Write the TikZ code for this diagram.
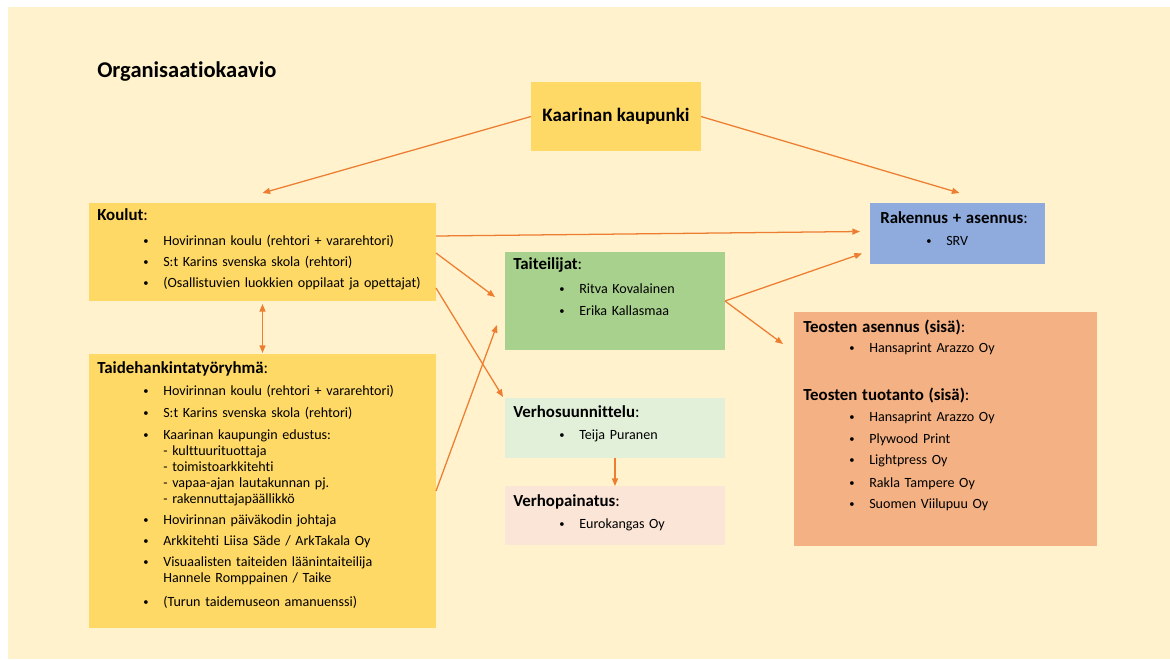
\documentclass[tikz,border=0pt]{standalone}
\usepackage{fontspec}
\setmainfont{Carlito}[Ligatures=NoCommon]
\usetikzlibrary{arrows.meta,positioning}
\definecolor{Tausta}{RGB}{255,242,204}
\definecolor{Keltainen}{RGB}{255,217,102}
\definecolor{Vihrea}{RGB}{169,209,142}
\definecolor{VaaleaVihrea}{RGB}{226,240,217}
\definecolor{VaaleaPuna}{RGB}{251,229,214}
\definecolor{Sininen}{RGB}{143,170,220}
\definecolor{Oranssi}{RGB}{244,177,131}
\definecolor{Nuoli}{RGB}{237,125,49}
\newlength\pxu \setlength\pxu{0.025cm}
\newcommand\otsikko[1]{{\fontsize{12}{11.4}\selectfont\textbf{#1}:}}
\newcommand\bul[1]{\hspace*{46\pxu}\makebox[20\pxu][l]{\fontsize{7.5}{7.5}\selectfont\raisebox{.6pt}{•}}#1}
\newcommand\subln[1]{\hspace*{66\pxu}#1}
\tikzset{
  lbox/.style  ={rectangle, anchor=north west, inner sep=0pt, outer sep=0pt},
  ltext/.style ={anchor=base west, inner sep=0pt, align=left, text=black,
                 font=\fontsize{10}{11.4}\selectfont},
  arr/.style   ={-{Triangle[length=1.9mm,width=1.5mm]}, draw=Nuoli, line width=.9pt},
  arrboth/.style={{Triangle[length=1.9mm,width=1.5mm]}-{Triangle[length=1.9mm,width=1.5mm]},
                 draw=Nuoli, line width=.9pt},
}

\begin{document}
\begin{tikzpicture}[x=0.025cm,y=0.025cm]
  \fill[white] (0,0) rectangle (1170,-659);
  \fill[Tausta] (8,-7) rectangle (1170,-659);
  \useasboundingbox (0,0) rectangle (1170,-659);

  \node[anchor=base west, inner sep=0pt, font=\fontsize{16}{18}\selectfont\bfseries] (otsikko) at (97,-77) {Organisaatiokaavio};

  % laatikot
  \node[lbox, fill=Keltainen, minimum width=170\pxu, minimum height=69\pxu,
        font=\fontsize{13.5}{15}\selectfont\bfseries] (kaupunki) at (531,-82) {Kaarinan kaupunki};
  \node[lbox, fill=Keltainen, minimum width=347\pxu, minimum height=98\pxu] (koulut) at (89,-203) {};
  \node[lbox, fill=Keltainen, minimum width=347\pxu, minimum height=274\pxu] (taide) at (89,-354) {};
  \node[lbox, fill=Vihrea, minimum width=220\pxu, minimum height=98\pxu] (taiteilijat) at (505,-252) {};
  \node[lbox, fill=VaaleaVihrea, minimum width=220\pxu, minimum height=60\pxu] (verhos) at (505,-398) {};
  \node[lbox, fill=VaaleaPuna, minimum width=220\pxu, minimum height=59\pxu] (verhop) at (505,-486) {};
  \node[lbox, fill=Sininen, minimum width=175\pxu, minimum height=61\pxu] (rakennus) at (870,-203) {};
  \node[lbox, fill=Oranssi, minimum width=303\pxu, minimum height=234\pxu] (teosten) at (794,-312) {};

  % tekstit
  \node[ltext, text width=335\pxu] (koulutT) at ([shift={(8,-17)}]koulut.north west) {%
    \otsikko{Koulut}\\[9\pxu]
    \bul{Hovirinnan koulu (rehtori + vararehtori)}\\[5\pxu]
    \bul{S:t Karins svenska skola (rehtori)}\\[5\pxu]
    \bul{(Osallistuvien luokkien oppilaat ja opettajat)}};
  \node[ltext, text width=335\pxu] (taideT) at ([shift={(8,-19)}]taide.north west) {%
    \otsikko{Taidehankintatyöryhmä}\\[6\pxu]
    \bul{Hovirinnan koulu (rehtori + vararehtori)}\\[6\pxu]
    \bul{S:t Karins svenska skola (rehtori)}\\[6\pxu]
    \bul{Kaarinan kaupungin edustus:}\\
    \subln{- kulttuurituottaja}\\
    \subln{- toimistoarkkitehti}\\
    \subln{- vapaa-ajan lautakunnan pj.}\\
    \subln{- rakennuttajapäällikkö}\\[5\pxu]
    \bul{Hovirinnan päiväkodin johtaja}\\[5\pxu]
    \bul{Arkkitehti Liisa Säde / ArkTakala Oy}\\[5\pxu]
    \bul{Visuaalisten taiteiden läänintaiteilija}\\
    \subln{Hannele Romppainen / Taike}\\[8\pxu]
    \bul{(Turun taidemuseon amanuenssi)}};
  \node[ltext, text width=210\pxu] (taiteilijatT) at ([shift={(8,-17)}]taiteilijat.north west) {%
    \otsikko{Taiteilijat}\\[8\pxu]
    \bul{Ritva Kovalainen}\\[6\pxu]
    \bul{Erika Kallasmaa}};
  \node[ltext, text width=210\pxu] (verhosT) at ([shift={(8,-19)}]verhos.north west) {%
    \otsikko{Verhosuunnittelu}\\[6\pxu]
    \bul{Teija Puranen}};
  \node[ltext, text width=210\pxu] (verhopT) at ([shift={(8,-20)}]verhop.north west) {%
    \otsikko{Verhopainatus}\\[6\pxu]
    \bul{Eurokangas Oy}};
  \node[ltext, text width=165\pxu] (rakennusT) at ([shift={(10,-20)}]rakennus.north west) {%
    \otsikko{Rakennus + asennus}\\[6\pxu]
    \bul{SRV}};
  \node[ltext, text width=290\pxu] (teostenT) at ([shift={(9,-20)}]teosten.north west) {%
    \otsikko{Teosten asennus (sisä)}\\[4\pxu]
    \bul{Hansaprint Arazzo Oy}\\[32\pxu]
    \otsikko{Teosten tuotanto (sisä)}\\[5\pxu]
    \bul{Hansaprint Arazzo Oy}\\[6\pxu]
    \bul{Plywood Print}\\[5\pxu]
    \bul{Lightpress Oy}\\[7\pxu]
    \bul{Rakla Tampere Oy}\\[5\pxu]
    \bul{Suomen Viilupuu Oy}};

  % nuolet
  \draw[arr] (kaupunki.west) -- ([shift={(0,10)}]koulut.north);
  \draw[arr] (kaupunki.east) -- ([shift={(2,10)}]rakennus.north);
  \draw[arr] ([shift={(0,16)}]koulut.east) -- ([shift={(-10,2)}]rakennus.west);
  \draw[arr] ([shift={(0,-1)}]koulut.east) -- ([shift={(-10,4)}]taiteilijat.west);
  \draw[arr] ([shift={(0,-36)}]koulut.east) -- ([shift={(-2,1)}]verhos.north west);
  \draw[arrboth] ([shift={(0,-3)}]koulut.south) -- ([shift={(0,1)}]taide.north);
  \draw[arr] (taide.east) -- ([shift={(-8,-24)}]taiteilijat.west);
  \draw[arr] (taiteilijat.east) -- ([shift={(-8,-20)}]rakennus.west);
  \draw[arr] (taiteilijat.east) -- ([shift={(-11,-32)}]teosten.north west);
  \draw[arr] (verhos.south) -- (verhop.north);
\end{tikzpicture}
\end{document}
